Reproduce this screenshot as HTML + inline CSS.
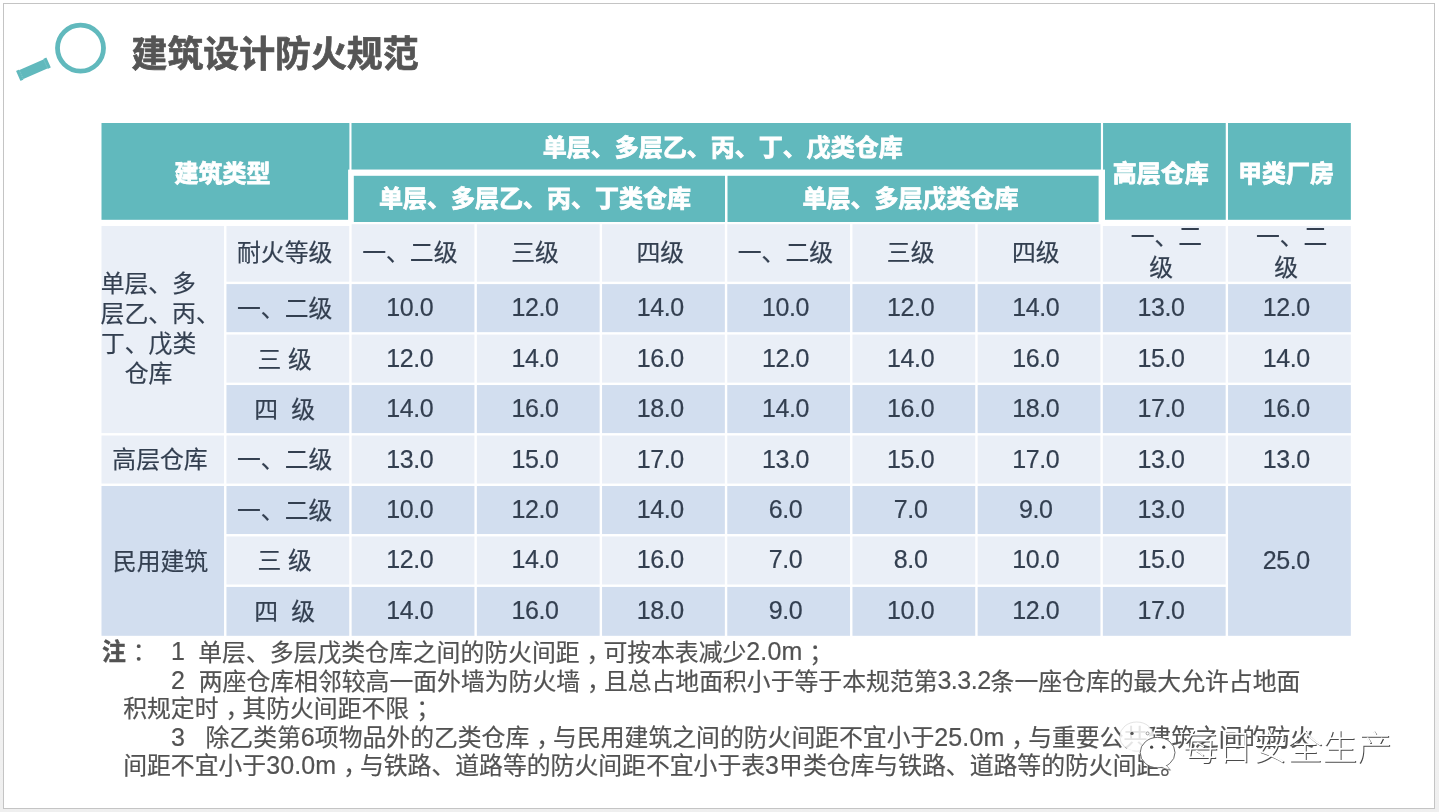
<!DOCTYPE html>
<html lang="zh-CN">
<head>
<meta charset="utf-8">
<title>建筑设计防火规范</title>
<style>
html,body{margin:0;padding:0;}
body{width:1439px;height:812px;overflow:hidden;position:relative;background:linear-gradient(to bottom,#ffffff 0,#fefefe 25%,#f8f8f8 50%,#f2f2f2 80%,#efefef 100%);font-family:"Liberation Sans","Noto Sans CJK SC",sans-serif;}
.slide{position:absolute;left:3px;top:3px;width:1430px;height:804px;border:1px solid #c4c4c4;background:#fff;}
svg.bg,svg.fg{position:absolute;left:0;top:0;width:1439px;height:812px;}
.t{position:absolute;white-space:nowrap;transform:translate(-50%,-50%);font-size:23.84px;line-height:30px;}
.h{color:#fff;font-weight:700;font-size:24px;-webkit-text-stroke:0.8px #fff;}
.b{color:#333f50;font-weight:400;-webkit-text-stroke:0.2px #333f50;}
.d{font-size:25px;letter-spacing:-0.4px;}
.title{position:absolute;left:131.5px;top:54.5px;transform:translateY(-50%);-webkit-text-stroke:0.7px #555;font-size:35.9px;line-height:44px;font-weight:700;color:#555555;white-space:nowrap;}
.n{position:absolute;white-space:nowrap;transform:translateY(-50%);font-size:23.84px;line-height:30px;color:#525252;-webkit-text-stroke:0.2px #525252;}
.n b{font-weight:700;-webkit-text-stroke:0.4px #525252;}
.p{position:relative;left:7px;}
.l{font-size:25px;letter-spacing:0.1px;position:relative;top:-0.8px;}
.wm{position:absolute;left:1183px;top:748.3px;transform:translateY(-50%);font-size:34.8px;line-height:40px;font-weight:300;color:#fff;text-shadow:1px 1px 0 #4a4a4a;white-space:nowrap;}
</style>
</head>
<body>
<div class="slide"></div>
<svg class="bg" viewBox="0 0 1439 812" width="1439" height="812">
<rect x="101.50" y="123.00" width="247.90" height="96.80" fill="#61b9bd"/>
<rect x="351.50" y="123.00" width="749.40" height="46.90" fill="#61b9bd"/>
<rect x="1103.05" y="123.00" width="122.70" height="96.80" fill="#61b9bd"/>
<rect x="1228.00" y="123.00" width="122.85" height="96.80" fill="#61b9bd"/>
<rect x="348.10" y="169.60" width="756.90" height="54.40" fill="#ffffff"/>
<rect x="353.80" y="175.80" width="371.20" height="46.20" fill="#61b9bd"/>
<rect x="727.50" y="175.80" width="371.10" height="46.20" fill="#61b9bd"/>
<rect x="101.50" y="226.00" width="122.55" height="207.11" fill="#eaeff7"/>
<rect x="101.50" y="435.51" width="122.55" height="48.07" fill="#eaeff7"/>
<rect x="101.50" y="485.98" width="122.55" height="149.82" fill="#d2deef"/>
<rect x="226.45" y="226.00" width="122.80" height="55.70" fill="#eaeff7"/>
<rect x="351.65" y="224.20" width="122.80" height="57.50" fill="#eaeff7"/>
<rect x="476.85" y="224.20" width="122.80" height="57.50" fill="#eaeff7"/>
<rect x="602.05" y="224.20" width="122.80" height="57.50" fill="#eaeff7"/>
<rect x="727.25" y="224.20" width="122.80" height="57.50" fill="#eaeff7"/>
<rect x="852.45" y="224.20" width="122.80" height="57.50" fill="#eaeff7"/>
<rect x="977.65" y="224.20" width="122.80" height="57.50" fill="#eaeff7"/>
<rect x="1102.85" y="226.00" width="122.80" height="55.70" fill="#eaeff7"/>
<rect x="1228.05" y="226.00" width="122.80" height="55.70" fill="#eaeff7"/>
<rect x="226.45" y="284.10" width="122.80" height="48.07" fill="#d2deef"/>
<rect x="351.65" y="284.10" width="122.80" height="48.07" fill="#d2deef"/>
<rect x="476.85" y="284.10" width="122.80" height="48.07" fill="#d2deef"/>
<rect x="602.05" y="284.10" width="122.80" height="48.07" fill="#d2deef"/>
<rect x="727.25" y="284.10" width="122.80" height="48.07" fill="#d2deef"/>
<rect x="852.45" y="284.10" width="122.80" height="48.07" fill="#d2deef"/>
<rect x="977.65" y="284.10" width="122.80" height="48.07" fill="#d2deef"/>
<rect x="1102.85" y="284.10" width="122.80" height="48.07" fill="#d2deef"/>
<rect x="1228.05" y="284.10" width="122.80" height="48.07" fill="#d2deef"/>
<rect x="226.45" y="334.57" width="122.80" height="48.07" fill="#eaeff7"/>
<rect x="351.65" y="334.57" width="122.80" height="48.07" fill="#eaeff7"/>
<rect x="476.85" y="334.57" width="122.80" height="48.07" fill="#eaeff7"/>
<rect x="602.05" y="334.57" width="122.80" height="48.07" fill="#eaeff7"/>
<rect x="727.25" y="334.57" width="122.80" height="48.07" fill="#eaeff7"/>
<rect x="852.45" y="334.57" width="122.80" height="48.07" fill="#eaeff7"/>
<rect x="977.65" y="334.57" width="122.80" height="48.07" fill="#eaeff7"/>
<rect x="1102.85" y="334.57" width="122.80" height="48.07" fill="#eaeff7"/>
<rect x="1228.05" y="334.57" width="122.80" height="48.07" fill="#eaeff7"/>
<rect x="226.45" y="385.04" width="122.80" height="48.07" fill="#d2deef"/>
<rect x="351.65" y="385.04" width="122.80" height="48.07" fill="#d2deef"/>
<rect x="476.85" y="385.04" width="122.80" height="48.07" fill="#d2deef"/>
<rect x="602.05" y="385.04" width="122.80" height="48.07" fill="#d2deef"/>
<rect x="727.25" y="385.04" width="122.80" height="48.07" fill="#d2deef"/>
<rect x="852.45" y="385.04" width="122.80" height="48.07" fill="#d2deef"/>
<rect x="977.65" y="385.04" width="122.80" height="48.07" fill="#d2deef"/>
<rect x="1102.85" y="385.04" width="122.80" height="48.07" fill="#d2deef"/>
<rect x="1228.05" y="385.04" width="122.80" height="48.07" fill="#d2deef"/>
<rect x="226.45" y="435.51" width="122.80" height="48.07" fill="#eaeff7"/>
<rect x="351.65" y="435.51" width="122.80" height="48.07" fill="#eaeff7"/>
<rect x="476.85" y="435.51" width="122.80" height="48.07" fill="#eaeff7"/>
<rect x="602.05" y="435.51" width="122.80" height="48.07" fill="#eaeff7"/>
<rect x="727.25" y="435.51" width="122.80" height="48.07" fill="#eaeff7"/>
<rect x="852.45" y="435.51" width="122.80" height="48.07" fill="#eaeff7"/>
<rect x="977.65" y="435.51" width="122.80" height="48.07" fill="#eaeff7"/>
<rect x="1102.85" y="435.51" width="122.80" height="48.07" fill="#eaeff7"/>
<rect x="1228.05" y="435.51" width="122.80" height="48.07" fill="#eaeff7"/>
<rect x="226.45" y="485.98" width="122.80" height="48.07" fill="#d2deef"/>
<rect x="351.65" y="485.98" width="122.80" height="48.07" fill="#d2deef"/>
<rect x="476.85" y="485.98" width="122.80" height="48.07" fill="#d2deef"/>
<rect x="602.05" y="485.98" width="122.80" height="48.07" fill="#d2deef"/>
<rect x="727.25" y="485.98" width="122.80" height="48.07" fill="#d2deef"/>
<rect x="852.45" y="485.98" width="122.80" height="48.07" fill="#d2deef"/>
<rect x="977.65" y="485.98" width="122.80" height="48.07" fill="#d2deef"/>
<rect x="1102.85" y="485.98" width="122.80" height="48.07" fill="#d2deef"/>
<rect x="226.45" y="536.45" width="122.80" height="48.07" fill="#eaeff7"/>
<rect x="351.65" y="536.45" width="122.80" height="48.07" fill="#eaeff7"/>
<rect x="476.85" y="536.45" width="122.80" height="48.07" fill="#eaeff7"/>
<rect x="602.05" y="536.45" width="122.80" height="48.07" fill="#eaeff7"/>
<rect x="727.25" y="536.45" width="122.80" height="48.07" fill="#eaeff7"/>
<rect x="852.45" y="536.45" width="122.80" height="48.07" fill="#eaeff7"/>
<rect x="977.65" y="536.45" width="122.80" height="48.07" fill="#eaeff7"/>
<rect x="1102.85" y="536.45" width="122.80" height="48.07" fill="#eaeff7"/>
<rect x="226.45" y="586.92" width="122.80" height="48.88" fill="#d2deef"/>
<rect x="351.65" y="586.92" width="122.80" height="48.88" fill="#d2deef"/>
<rect x="476.85" y="586.92" width="122.80" height="48.88" fill="#d2deef"/>
<rect x="602.05" y="586.92" width="122.80" height="48.88" fill="#d2deef"/>
<rect x="727.25" y="586.92" width="122.80" height="48.88" fill="#d2deef"/>
<rect x="852.45" y="586.92" width="122.80" height="48.88" fill="#d2deef"/>
<rect x="977.65" y="586.92" width="122.80" height="48.88" fill="#d2deef"/>
<rect x="1102.85" y="586.92" width="122.80" height="48.88" fill="#d2deef"/>
<rect x="1228.05" y="485.98" width="122.80" height="149.82" fill="#d2deef"/>
<circle cx="80.5" cy="48.1" r="23.0" fill="none" stroke="#61b9bd" stroke-width="4.8"/>
<g transform="translate(33.4 69.2) rotate(-23.8)"><path d="M-16.6 -5 Q-16.6 -5.5 -16.1 -5.5 L-13.6 -5.5 L-13.1 -4.9 L13.1 -4.9 L13.6 -5.5 L16.1 -5.5 Q16.6 -5.5 16.6 -5 L16.6 5 Q16.6 5.5 16.1 5.5 L13.6 5.5 L13.1 4.9 L-13.1 4.9 L-13.6 5.5 L-16.1 5.5 Q-16.6 5.5 -16.6 5 Z" fill="#61b9bd"/><path d="M-13.3 -4.6 L-13.3 4.6 M13.3 -4.6 L13.3 4.6" stroke="#a6d8db" stroke-width="0.45" stroke-dasharray="1.1 1" fill="none"/></g>
</svg>
<div class="title">建筑设计防火规范</div>
<div class="t h" style="left:222.50px;top:173.80px;">建筑类型</div>
<div class="t h" style="left:722.80px;top:148.00px;">单层、多层乙、丙、丁、戊类仓库</div>
<div class="t h" style="left:535.00px;top:198.80px;">单层、多层乙、丙、丁类仓库</div>
<div class="t h" style="left:910.50px;top:198.80px;">单层、多层戊类仓库</div>
<div class="t h" style="left:1160.80px;top:173.80px;">高层仓库</div>
<div class="t h" style="left:1286.00px;top:173.80px;">甲类厂房</div>
<div class="t b" style="left:284.65px;top:253.00px;">耐火等级</div>
<div class="t b" style="left:409.85px;top:253.00px;">一、二级</div>
<div class="t b" style="left:535.05px;top:253.00px;">三级</div>
<div class="t b" style="left:660.25px;top:253.00px;">四级</div>
<div class="t b" style="left:785.45px;top:253.00px;">一、二级</div>
<div class="t b" style="left:910.65px;top:253.00px;">三级</div>
<div class="t b" style="left:1035.85px;top:253.00px;">四级</div>
<div class="t b" style="left:284.65px;top:309.03px;">一、二级</div>
<div class="t b d" style="left:409.85px;top:307.13px;">10.0</div>
<div class="t b d" style="left:535.05px;top:307.13px;">12.0</div>
<div class="t b d" style="left:660.25px;top:307.13px;">14.0</div>
<div class="t b d" style="left:785.45px;top:307.13px;">10.0</div>
<div class="t b d" style="left:910.65px;top:307.13px;">12.0</div>
<div class="t b d" style="left:1035.85px;top:307.13px;">14.0</div>
<div class="t b d" style="left:1161.05px;top:307.13px;">13.0</div>
<div class="t b d" style="left:1286.25px;top:307.13px;">12.0</div>
<div class="t b" style="left:284.65px;top:359.50px;">三 级</div>
<div class="t b d" style="left:409.85px;top:357.61px;">12.0</div>
<div class="t b d" style="left:535.05px;top:357.61px;">14.0</div>
<div class="t b d" style="left:660.25px;top:357.61px;">16.0</div>
<div class="t b d" style="left:785.45px;top:357.61px;">12.0</div>
<div class="t b d" style="left:910.65px;top:357.61px;">14.0</div>
<div class="t b d" style="left:1035.85px;top:357.61px;">16.0</div>
<div class="t b d" style="left:1161.05px;top:357.61px;">15.0</div>
<div class="t b d" style="left:1286.25px;top:357.61px;">14.0</div>
<div class="t b" style="left:284.65px;top:409.97px;">四&nbsp; 级</div>
<div class="t b d" style="left:409.85px;top:408.07px;">14.0</div>
<div class="t b d" style="left:535.05px;top:408.07px;">16.0</div>
<div class="t b d" style="left:660.25px;top:408.07px;">18.0</div>
<div class="t b d" style="left:785.45px;top:408.07px;">14.0</div>
<div class="t b d" style="left:910.65px;top:408.07px;">16.0</div>
<div class="t b d" style="left:1035.85px;top:408.07px;">18.0</div>
<div class="t b d" style="left:1161.05px;top:408.07px;">17.0</div>
<div class="t b d" style="left:1286.25px;top:408.07px;">16.0</div>
<div class="t b" style="left:284.65px;top:460.44px;">一、二级</div>
<div class="t b d" style="left:409.85px;top:458.54px;">13.0</div>
<div class="t b d" style="left:535.05px;top:458.54px;">15.0</div>
<div class="t b d" style="left:660.25px;top:458.54px;">17.0</div>
<div class="t b d" style="left:785.45px;top:458.54px;">13.0</div>
<div class="t b d" style="left:910.65px;top:458.54px;">15.0</div>
<div class="t b d" style="left:1035.85px;top:458.54px;">17.0</div>
<div class="t b d" style="left:1161.05px;top:458.54px;">13.0</div>
<div class="t b d" style="left:1286.25px;top:458.54px;">13.0</div>
<div class="t b" style="left:284.65px;top:510.91px;">一、二级</div>
<div class="t b d" style="left:409.85px;top:509.01px;">10.0</div>
<div class="t b d" style="left:535.05px;top:509.01px;">12.0</div>
<div class="t b d" style="left:660.25px;top:509.01px;">14.0</div>
<div class="t b d" style="left:785.45px;top:509.01px;">6.0</div>
<div class="t b d" style="left:910.65px;top:509.01px;">7.0</div>
<div class="t b d" style="left:1035.85px;top:509.01px;">9.0</div>
<div class="t b d" style="left:1161.05px;top:509.01px;">13.0</div>
<div class="t b" style="left:284.65px;top:561.38px;">三 级</div>
<div class="t b d" style="left:409.85px;top:559.49px;">12.0</div>
<div class="t b d" style="left:535.05px;top:559.49px;">14.0</div>
<div class="t b d" style="left:660.25px;top:559.49px;">16.0</div>
<div class="t b d" style="left:785.45px;top:559.49px;">7.0</div>
<div class="t b d" style="left:910.65px;top:559.49px;">8.0</div>
<div class="t b d" style="left:1035.85px;top:559.49px;">10.0</div>
<div class="t b d" style="left:1161.05px;top:559.49px;">15.0</div>
<div class="t b" style="left:284.65px;top:612.26px;">四&nbsp; 级</div>
<div class="t b d" style="left:409.85px;top:610.36px;">14.0</div>
<div class="t b d" style="left:535.05px;top:610.36px;">16.0</div>
<div class="t b d" style="left:660.25px;top:610.36px;">18.0</div>
<div class="t b d" style="left:785.45px;top:610.36px;">9.0</div>
<div class="t b d" style="left:910.65px;top:610.36px;">10.0</div>
<div class="t b d" style="left:1035.85px;top:610.36px;">12.0</div>
<div class="t b d" style="left:1161.05px;top:610.36px;">17.0</div>
<div class="t b d" style="left:1286.25px;top:559.89px;">25.0</div>
<div class="t b" style="left:1166.45px;top:237.00px;">一、二</div>
<div class="t b" style="left:1161.05px;top:267.50px;">级</div>
<div class="t b" style="left:1291.65px;top:237.00px;">一、二</div>
<div class="t b" style="left:1286.25px;top:267.50px;">级</div>
<div class="t b" style="left:148.30px;top:284.30px;">单层、多</div>
<div class="t b" style="left:160.20px;top:314.30px;">层乙、丙、</div>
<div class="t b" style="left:148.60px;top:344.30px;">丁、戊类</div>
<div class="t b" style="left:148.60px;top:374.30px;">仓库</div>
<div class="t b" style="left:160.00px;top:460.44px;">高层仓库</div>
<div class="t b" style="left:160.50px;top:561.79px;">民用建筑</div>
<div class="n" style="left:102.00px;top:651.80px;"><b>注</b><span class="p">：</span></div>
<div class="n" style="left:171.00px;top:651.80px;"><span class="l">1</span></div>
<div class="n" style="left:198.30px;top:651.80px;">单层、多层戊类仓库之间的防火间距<span class="p">，</span>可按本表减少<span class="l">2.0m</span><span class="p">；</span></div>
<div class="n" style="left:171.00px;top:680.80px;"><span class="l">2</span></div>
<div class="n" style="left:198.80px;top:680.80px;">两座仓库相邻较高一面外墙为防火墙<span class="p">，</span>且总占地面积小于等于本规范第<span class="l" style="letter-spacing:-0.5px">3.3.2</span>条一座仓库的最大允许占地面</div>
<div class="n" style="left:123.20px;top:709.30px;">积规定时<span class="p">，</span>其防火间距不限<span class="p">；</span></div>
<div class="n" style="left:171.00px;top:737.30px;"><span class="l">3</span></div>
<div class="n" style="left:205.50px;top:737.30px;">除乙类第<span class="l">6</span>项物品外的乙类仓库<span class="p">，</span>与民用建筑之间的防火间距不宜小于<span class="l">25.0m</span><span class="p">，</span>与重要公共建筑之间的防火</div>
<div class="n" style="left:123.20px;top:765.30px;">间距不宜小于<span class="l">30.0m</span><span class="p">，</span>与铁路、道路等的防火间距不宜小于表<span class="l">3</span>甲类仓库与铁路、道路等的防火间距。</div>
<svg class="fg" viewBox="0 0 1439 812" width="1439" height="812">
<g>
<ellipse cx="1136.7" cy="736.6" rx="17" ry="14.6" fill="#fff" fill-opacity="0.85" stroke="#999" stroke-opacity="0.35" stroke-width="0.8"/>
<path d="M1127 748.5 L1125.5 754.5 L1133 750.5 Z" fill="#fff" opacity="0.9"/>
<path d="M1165.6 764.6 L1170.4 770.2 L1160.6 767.4 Z" fill="#fff" stroke="#666" stroke-width="0.8"/>
<ellipse cx="1157.6" cy="752.6" rx="17.4" ry="15.2" fill="#fff" stroke="#5a5a5a" stroke-width="0.9"/>
<path d="M1164.6 764.0 L1169.0 768.8 L1161.2 766.4 Z" fill="#fff"/>
<circle cx="1132.0" cy="733.4" r="1.7" fill="#555"/>
<circle cx="1147.6" cy="733.4" r="1.5" fill="#fff" stroke="#777" stroke-width="0.7"/>
<circle cx="1151.6" cy="747.2" r="1.6" fill="#444"/>
<circle cx="1163.8" cy="747.2" r="1.6" fill="#444"/>
</g>
</svg>
<div class="wm">每日安全生产</div>
</body>
</html>
